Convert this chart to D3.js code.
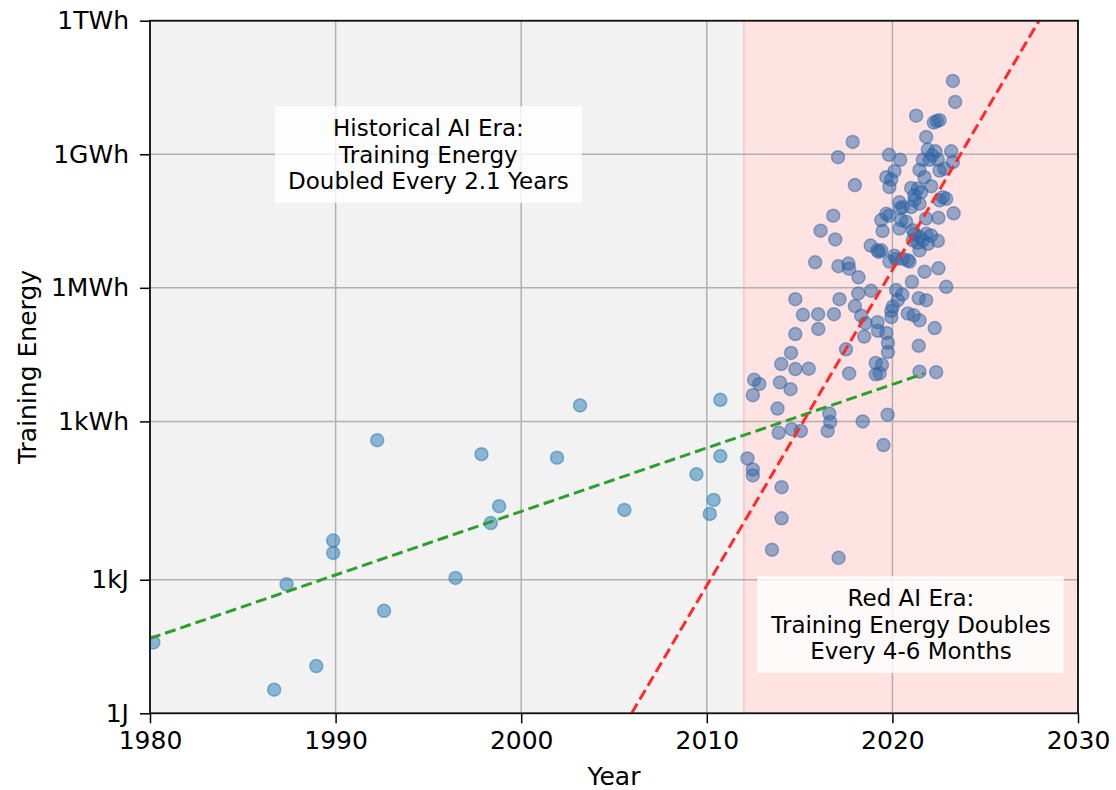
<!DOCTYPE html>
<html>
<head>
<meta charset="utf-8">
<script src="https://cdn.jsdelivr.net/npm/d3@7"></script>
<style>
  body { margin: 0; background: #fff; }
  text { font-family: "DejaVu Sans", sans-serif; fill: #000; }
</style>
</head>
<body>
<svg id="chart" width="1116" height="790"></svg>
<script>
// ---- data (year, training energy in joules) ----
const historicalPoints = [
  [1980.18, 39], [1986.69, 3.4], [1987.36, 790], [1988.96, 11.5],
  [1989.87, 7600], [1989.87, 4000], [1992.24, 1.36e6], [1992.61, 200],
  [1996.46, 1100], [1997.86, 6.6e5], [1998.36, 1.87e4], [1998.81, 4.5e4],
  [2001.93, 5.5e5], [2003.17, 8.2e6], [2005.56, 3.7e4], [2009.44, 2.35e5],
  [2010.16, 3.0e4], [2010.37, 6.2e4], [2010.73, 1.1e7], [2010.73, 6.0e5]
];

const redEraPoints = [
  [2012.19, 5.3e5], [2012.48, 3.0e5], [2012.48, 2.2e5], [2012.48, 1.4e7],
  [2012.55, 3.1e7], [2012.83, 2.5e7], [2013.51, 4.7e3], [2013.81, 7.0e6],
  [2013.87, 2.0e6], [2013.94, 2.7e7], [2014.01, 7.0e7], [2014.03, 1.2e5],
  [2014.03, 2.4e4], [2014.51, 1.9e7], [2014.54, 1.24e8], [2014.57, 2.4e6],
  [2014.77, 2.0e9], [2014.77, 3.3e8], [2014.77, 5.4e7], [2015.07, 2.2e6],
  [2015.18, 8.9e8], [2015.49, 5.5e7], [2015.84, 1.35e10], [2016.00, 9.2e8],
  [2016.01, 4.3e8], [2016.13, 6.9e10], [2016.51, 2.2e6], [2016.60, 5.4e6],
  [2016.65, 3.5e6], [2016.81, 1.5e11], [2016.85, 9.2e8], [2016.92, 4.4e10],
  [2017.07, 3.1e12], [2017.10, 3.1e3], [2017.09, 1.1e10], [2017.15, 2.0e9],
  [2017.50, 1.5e8], [2017.63, 1.26e10], [2017.67, 9.7e9], [2017.67, 4.3e7],
  [2017.86, 6.8e12], [2017.98, 7.3e11], [2017.98, 1.4e9], [2018.17, 6.2e9],
  [2018.16, 2.7e9], [2018.32, 8.5e8], [2018.40, 3.6e6], [2018.48, 2.9e8],
  [2018.56, 5.8e8], [2018.85, 3.1e9], [2018.83, 3.2e10], [2019.10, 7.4e7],
  [2019.10, 4.1e7], [2019.19, 2.5e10], [2019.20, 6.1e8], [2019.22, 3.9e8],
  [2019.27, 2.3e10], [2019.31, 4.3e7], [2019.40, 2.5e10], [2019.44, 6.7e7],
  [2019.40, 1.2e11], [2019.47, 6.8e10], [2019.52, 1.06e6], [2019.67, 1.1e12],
  [2019.67, 1.66e11], [2019.67, 3.5e8], [2019.74, 5.1e6], [2019.76, 2.1e8],
  [2019.76, 1.3e8], [2019.82, 3.5e12], [2019.82, 1.5e11], [2019.84, 6.6e11],
  [2019.84, 1.4e10], [2019.94, 9.7e11], [2019.94, 1.1e9], [2019.94, 7.9e8],
  [2020.02, 1.37e9], [2020.11, 1.5e12], [2020.11, 1.9e10], [2020.20, 3.2e9],
  [2020.20, 1.6e10], [2020.29, 1.9e9], [2020.38, 3.0e11], [2020.38, 7.7e10],
  [2020.42, 2.7e12], [2020.42, 2.2e11], [2020.47, 1.2e11], [2020.53, 2.55e9],
  [2020.56, 2.35e11], [2020.56, 1.6e10], [2020.74, 1.1e11], [2020.83, 9.5e8],
  [2020.83, 1.5e10], [2020.92, 1.4e10], [2021.01, 6.3e11], [2021.01, 2.35e11],
  [2021.05, 4.9e9], [2021.10, 7.1e10], [2021.10, 4.2e10], [2021.15, 8.7e8],
  [2021.19, 4.3e11], [2021.19, 3.3e11], [2021.19, 5.9e10], [2021.28, 2.65e13],
  [2021.37, 6.1e11], [2021.37, 3.7e10], [2021.42, 2.1e9], [2021.42, 1.8e8],
  [2021.46, 1.6e12], [2021.46, 2.8e11], [2021.46, 5.0e10], [2021.46, 2.5e10],
  [2021.46, 6.7e8], [2021.46, 4.7e7], [2021.55, 5.1e11], [2021.64, 2.7e12],
  [2021.64, 4.2e10], [2021.73, 1.1e12], [2021.73, 8.3e9], [2021.82, 8.8e12],
  [2021.82, 1.3e11], [2021.82, 5.9e10], [2021.82, 1.9e9], [2021.91, 4.6e12],
  [2021.91, 3.5e10], [2022.00, 2.7e12], [2022.09, 6.9e11], [2022.09, 5.4e10],
  [2022.14, 3.4e12], [2022.23, 1.85e13], [2022.28, 4.5e8], [2022.32, 4.2e12],
  [2022.36, 4.6e7], [2022.39, 2.0e13], [2022.45, 2.7e12], [2022.45, 4.1e10],
  [2022.48, 1.35e11], [2022.48, 9.9e9], [2022.54, 2.1e13], [2022.54, 1.55e12],
  [2022.54, 3.3e11], [2022.72, 3.9e11], [2022.81, 1.7e12], [2022.90, 3.6e11],
  [2022.90, 3.8e9], [2023.17, 4.2e12], [2023.26, 1.6e14], [2023.26, 2.4e12],
  [2023.30, 1.7e11], [2023.38, 5.4e13]
];

// trend lines (end points, year / joules)
const historicalTrend = [[1980, 48], [2021.73, 4.3e7]];
const redEraTrend = [[2005.95, 1], [2027.9, 3.6e15]];

const redEraSpan = [2012, 2030];

const xTicks = [1980, 1990, 2000, 2010, 2020, 2030];
const yTickValues = [1, 1e3, 3.6e6, 3.6e9, 3.6e12, 3.6e15];
const yTickLabels = ['1J', '1kJ', '1kWh', '1MWh', '1GWh', '1TWh'];

const notes = [
  { year: 1995, energy: 3.6e12, lines: ['Historical AI Era:', 'Training Energy', 'Doubled Every 2.1 Years'] },
  { year: 2021, energy: 100, lines: ['Red AI Era:', 'Training Energy Doubles', 'Every 4-6 Months'] }
];

// ---- layout ----
const width = 1116, height = 790;
const margin = { top: 20.7, right: 38, bottom: 76.7, left: 150 };
const innerW = width - margin.left - margin.right;
const innerH = height - margin.top - margin.bottom;
const tickFont = 25;

const svg = d3.select('#chart');

const x = d3.scaleLinear().domain([1980, 2030]).range([margin.left, width - margin.right]);
const y = d3.scaleLog().domain([1, 3.6e15]).range([height - margin.bottom, margin.top]);

svg.append('defs').append('clipPath').attr('id', 'plot-clip')
  .append('rect')
  .attr('x', margin.left).attr('y', margin.top)
  .attr('width', innerW).attr('height', innerH);

// axes background
svg.append('rect')
  .attr('x', margin.left).attr('y', margin.top)
  .attr('width', innerW).attr('height', innerH)
  .attr('fill', '#f2f2f2');

// red era shading
svg.append('rect')
  .attr('x', x(redEraSpan[0])).attr('y', margin.top)
  .attr('width', x(redEraSpan[1]) - x(redEraSpan[0])).attr('height', innerH)
  .attr('fill', '#ffe3e3')
  .attr('stroke', '#f8c4c4').attr('stroke-width', 1.5);

// grid
const grid = svg.append('g').attr('class', 'grid');
grid.selectAll('line.vx').data(xTicks).join('line')
  .attr('x1', d => x(d)).attr('x2', d => x(d))
  .attr('y1', margin.top).attr('y2', height - margin.bottom)
  .attr('stroke', '#b0b0b0').attr('stroke-width', 1.5);
grid.selectAll('line.hy').data(yTickValues).join('line')
  .attr('x1', margin.left).attr('x2', width - margin.right)
  .attr('y1', d => y(d)).attr('y2', d => y(d))
  .attr('stroke', '#b0b0b0').attr('stroke-width', 1.5);

// scatter
const plot = svg.append('g').attr('clip-path', 'url(#plot-clip)');

plot.append('g').selectAll('circle').data(historicalPoints).join('circle')
  .attr('cx', d => x(d[0])).attr('cy', d => y(d[1])).attr('r', 6.5)
  .attr('fill', '#1f77b4').attr('fill-opacity', 0.5)
  .attr('stroke', '#1f77b4').attr('stroke-opacity', 0.5).attr('stroke-width', 1.5);

plot.append('g').selectAll('circle').data(redEraPoints).join('circle')
  .attr('cx', d => x(d[0])).attr('cy', d => y(d[1])).attr('r', 6.5)
  .attr('fill', '#2f66a6').attr('fill-opacity', 0.5)
  .attr('stroke', '#2f66a6').attr('stroke-opacity', 0.5).attr('stroke-width', 1.5);

// trend lines
const trendLine = d3.line().x(d => x(d[0])).y(d => y(d[1]));
plot.append('path').datum(historicalTrend)
  .attr('d', trendLine).attr('fill', 'none')
  .attr('stroke', '#2ca02c').attr('stroke-width', 3).attr('stroke-dasharray', '11,5');
plot.append('path').datum(redEraTrend)
  .attr('d', trendLine).attr('fill', 'none')
  .attr('stroke', '#ff2a2a')
  .attr('stroke-width', 3).attr('stroke-dasharray', '11,5');

// axes
const xAxis = svg.append('g')
  .attr('transform', `translate(0,${height - margin.bottom})`)
  .call(d3.axisBottom(x).tickValues(xTicks).tickFormat(d3.format('d')).tickSizeOuter(0).tickSize(10).tickPadding(8));
const yAxis = svg.append('g')
  .attr('transform', `translate(${margin.left},0)`)
  .call(d3.axisLeft(y).tickValues(yTickValues).tickFormat((d, i) => yTickLabels[i]).tickSizeOuter(0).tickSize(10).tickPadding(11));

[xAxis, yAxis].forEach(ax => {
  ax.select('.domain').remove();
  ax.selectAll('.tick line').attr('stroke', '#000').attr('stroke-width', 1.5);
  ax.selectAll('.tick text')
    .attr('font-family', '"DejaVu Sans", sans-serif')
    .attr('font-size', tickFont).attr('fill', '#000');
});

// spines
svg.append('rect')
  .attr('x', margin.left).attr('y', margin.top)
  .attr('width', innerW).attr('height', innerH)
  .attr('fill', 'none').attr('stroke', '#111').attr('stroke-width', 1.8);

// axis labels
svg.append('text')
  .attr('x', x(2005)).attr('y', height - 5)
  .attr('text-anchor', 'middle').attr('font-size', tickFont)
  .text('Year');
svg.append('text')
  .attr('transform', `translate(36,${(margin.top + height - margin.bottom) / 2}) rotate(-90)`)
  .attr('text-anchor', 'middle').attr('font-size', tickFont)
  .text('Training Energy');

// annotation boxes
const noteFont = 23, lineGap = 26.3, padX = 13, padY = 9;
notes.forEach(n => {
  const g = svg.append('g');
  const cx = x(n.year), cy = y(n.energy);
  const box = g.append('rect');
  const t = g.append('text')
    .attr('text-anchor', 'middle').attr('font-size', noteFont);
  n.lines.forEach((line, i) => {
    t.append('tspan')
      .attr('x', cx)
      .attr('y', cy + (i - (n.lines.length - 1) / 2) * lineGap + noteFont * 0.36)
      .text(line);
  });
  const bb = t.node().getBBox();
  box.attr('x', bb.x - padX).attr('y', bb.y - padY)
    .attr('width', bb.width + padX * 2).attr('height', bb.height + padY * 2)
    .attr('fill', '#ffffff').attr('fill-opacity', 0.8);
});
</script>
</body>
</html>
